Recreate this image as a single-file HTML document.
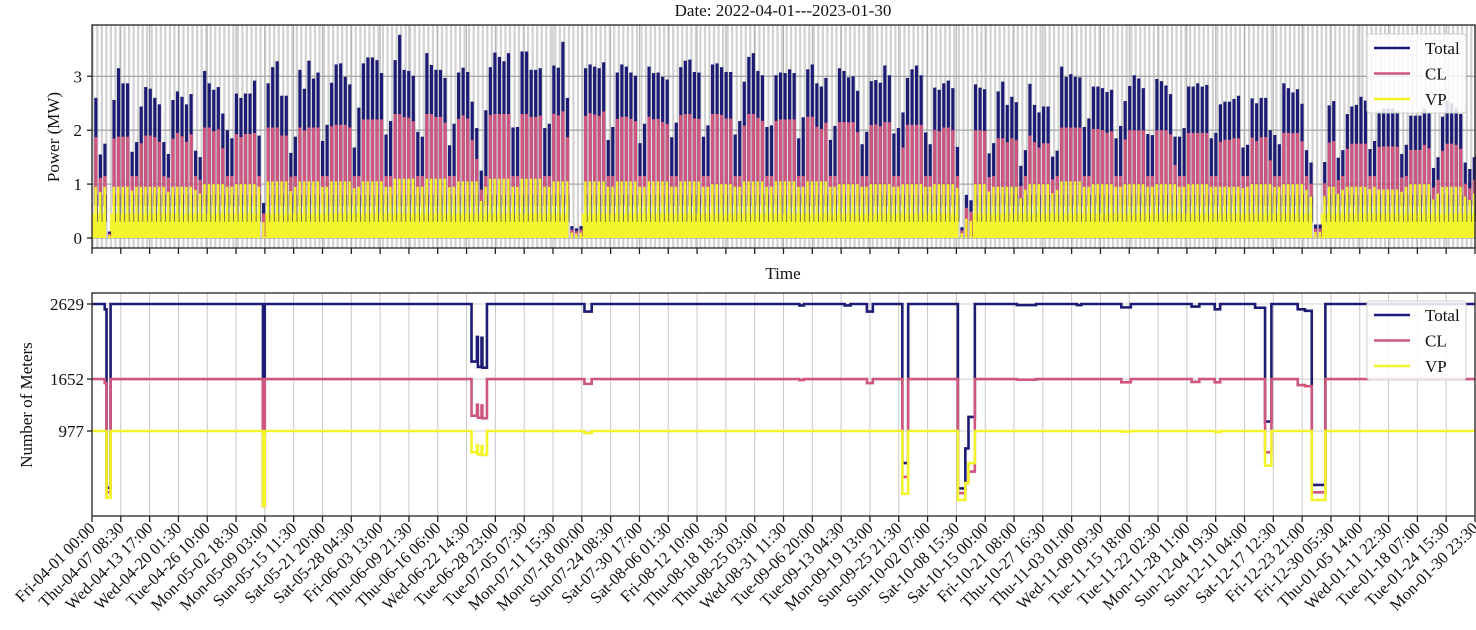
<!DOCTYPE html>
<html><head><meta charset="utf-8"><title>Power and meters</title>
<style>
html,body{margin:0;padding:0;background:#fff;}
svg{display:block;font-family:"Liberation Serif","DejaVu Serif",serif;}
</style></head>
<body>
<svg id="chart" width="1476" height="630" viewBox="0 0 1476 630" xmlns="http://www.w3.org/2000/svg">
<text x="783" y="16" font-size="17" text-anchor="middle" fill="#111">Date: 2022-04-01---2023-01-30</text>
<g id="topPanel"></g>
<g id="botPanel"></g>
</svg>
<script>
// ---------- data ----------
const tickLabels = ["Fri-04-01 00:00","Thu-04-07 08:30","Wed-04-13 17:00","Wed-04-20 01:30","Tue-04-26 10:00","Mon-05-02 18:30","Mon-05-09 03:00","Sun-05-15 11:30","Sat-05-21 20:00","Sat-05-28 04:30","Fri-06-03 13:00","Thu-06-09 21:30","Thu-06-16 06:00","Wed-06-22 14:30","Tue-06-28 23:00","Tue-07-05 07:30","Mon-07-11 15:30","Mon-07-18 00:00","Sun-07-24 08:30","Sat-07-30 17:00","Sat-08-06 01:30","Fri-08-12 10:00","Thu-08-18 18:30","Thu-08-25 03:00","Wed-08-31 11:30","Tue-09-06 20:00","Tue-09-13 04:30","Mon-09-19 13:00","Sun-09-25 21:30","Sun-10-02 07:00","Sat-10-08 15:30","Sat-10-15 00:00","Fri-10-21 08:00","Thu-10-27 16:30","Thu-11-03 01:00","Wed-11-09 09:30","Tue-11-15 18:00","Tue-11-22 02:30","Mon-11-28 11:00","Sun-12-04 19:30","Sun-12-11 04:00","Sat-12-17 12:30","Fri-12-23 21:00","Fri-12-30 05:30","Thu-01-05 14:00","Wed-01-11 22:30","Tue-01-18 07:00","Tue-01-24 15:30","Mon-01-30 23:30"];
const powerTicks = [0,1,2,3];
const meterTicks = [977,1652,2629];
// daily peak of Total power (MW), day 0 = 2022-04-01
const totalPeak = [2.6,1.55,1.75,0.12,2.56,3.15,2.87,2.87,1.6,1.78,
2.44,2.8,2.77,2.6,2.48,1.78,1.56,2.56,2.72,2.62,
2.48,2.67,1.62,1.5,3.1,2.87,2.75,2.8,2.31,2.0,
1.85,2.68,2.6,2.68,2.68,2.92,1.9,0.65,2.87,3.17,
3.28,2.64,2.64,1.58,1.88,3.12,2.77,3.29,2.96,3.07,
1.8,2.1,2.88,3.22,3.24,2.99,2.85,1.68,2.42,3.24,
3.35,3.35,3.3,3.06,1.92,2.17,3.3,3.77,3.12,3.1,
3.01,1.97,1.88,3.43,3.21,3.12,3.12,2.97,1.72,2.12,
3.07,3.16,3.08,2.53,2.04,1.25,2.37,3.17,3.44,3.36,
3.28,3.43,2.05,2.06,3.46,3.46,3.12,3.12,3.15,2.04,
2.12,3.2,3.16,3.64,2.6,0.22,0.18,0.22,3.15,3.22,
3.18,3.15,3.26,1.82,2.06,3.07,3.22,3.18,3.07,3.01,
1.76,2.12,3.18,3.06,3.07,2.99,2.94,1.87,2.14,3.17,
3.29,3.31,3.08,3.07,1.88,2.09,3.22,3.24,3.17,3.08,
3.08,1.92,2.17,2.9,3.36,3.43,3.1,3.02,2.06,2.09,
3.02,3.07,3.06,3.13,3.06,1.85,2.24,3.13,3.22,2.87,
2.81,2.97,1.82,2.08,3.15,3.1,2.98,3.0,2.73,1.74,
1.97,2.91,2.93,2.88,3.2,3.02,1.94,2.04,2.33,2.97,
3.13,3.2,3.02,1.96,1.74,2.79,2.75,2.87,2.92,2.78,
1.69,0.2,0.8,0.7,2.85,2.79,2.76,1.57,1.76,2.72,
2.9,2.47,2.62,2.52,1.34,1.63,2.86,2.47,2.33,2.44,
2.44,1.51,1.62,3.18,2.99,3.04,2.99,2.98,2.06,2.22,
2.81,2.81,2.78,2.71,2.75,1.85,2.08,2.54,2.82,3.02,
2.96,2.78,1.93,1.91,2.95,2.91,2.83,2.67,1.88,1.88,
2.04,2.81,2.81,2.87,2.81,2.84,1.85,1.95,2.48,2.53,
2.53,2.58,2.64,1.68,1.73,2.59,2.5,2.6,2.6,2.0,
1.91,1.74,2.87,2.78,2.7,2.76,2.49,1.63,1.4,0.25,
0.25,1.41,2.46,2.54,1.49,1.63,2.3,2.44,2.47,2.62,
2.55,1.65,1.8,2.35,2.4,2.4,2.4,2.35,1.56,1.73,
2.27,2.27,2.27,2.4,2.31,1.3,1.5,2.25,2.55,2.5,
2.4,2.3,1.4,1.28,1.5];
// weekly (Mon-start) weekday peak levels for CL and VP
const clWeekly = [1.88,1.9,1.95,2.05,1.95,2.05,2.05,2.1,2.2,2.3,2.3,2.3,2.3,2.3,2.35,2.35,2.25,2.25,2.3,2.3,2.3,2.2,2.25,2.15,2.15,2.1,2.05,2.0,1.85,1.9,2.05,2.05,2.0,2.0,1.95,1.85,1.95,1.95,1.8,1.75,1.7,1.85,1.75,1.7];
const vpWeekly = [0.95,0.95,0.95,1.0,1.0,1.05,1.05,1.05,1.05,1.1,1.1,1.05,1.1,1.1,1.05,1.05,1.05,1.05,1.05,1.0,1.05,1.05,1.05,1.0,1.0,1.0,1.0,1.0,0.95,1.0,1.05,1.0,1.0,1.0,1.0,0.95,1.0,1.0,0.95,0.95,0.9,1.0,0.95,0.9];
const weekendPeaks = [1.15, 0.95]; // CL, VP weekend peak
const baseLoad = [0.45, 0.6];      // VP night base, CL min
// meter counts (step series)
const mDays  = [0,2.8,3.2,4.1,37.7,38.1,83.7,84.9,85.1,85.9,86.1,87.1,108.6,110.2,156,157,166,167.3,170.9,172.2,178.7,180.0,190.96,192.6,193.3,194.7,204.0,208.2,217.2,218.2,227.0,229.1,242.5,244.2,247.6,248.8,256.5,258.7,260.1,265.9,267.5,269.0,272.0,305];
const mTotal = [2629,2560,240,2629,0,2629,1880,2200,1810,2190,1800,2629,2530,2629,2610,2629,2610,2629,2530,2629,560,2629,230,750,1160,2629,2615,2629,2615,2629,2585,2629,2595,2629,2560,2629,2580,1100,2629,2560,2540,275,2629,2629];
const mCL    = [1652,1600,180,1652,0,1652,1176,1320,1150,1310,1142,1652,1590,1652,1640,1652,1652,1652,1600,1652,380,1652,170,300,450,1652,1645,1652,1652,1652,1610,1652,1615,1652,1610,1652,1652,700,1652,1575,1560,180,1652,1652];
const mVP    = [977,977,110,977,0,977,700,790,670,780,665,977,950,977,977,977,977,977,977,977,160,977,80,300,560,977,977,977,977,977,970,977,977,977,965,977,977,526,977,977,977,80,977,977];

// ---------- scales ----------
const NS="http://www.w3.org/2000/svg";
const X0=92, X1=1475, DAYS=305;
function X(d){return X0+(X1-X0)*d/DAYS;}
function YP(v){return 238 - v*53.9;}
function YM(v){return 431 - (v-977)*0.07688;}
function el(tag, attrs, parent){const e=document.createElementNS(NS,tag);for(const k in attrs)e.setAttribute(k,attrs[k]);parent.appendChild(e);return e;}
const C_T="#1c1c74", C_CL="#cf567f", C_VP="#f4f42c";
const topG=document.getElementById('topPanel'), botG=document.getElementById('botPanel');

// ---------- top panel ----------
el('rect',{x:X0,y:25,width:X1-X0,height:223,fill:'#ffffff'},topG);
for(let d=0; d<=DAYS; d++){
  const g=el('line',{x1:X(d)+0.8,x2:X(d)+0.8,y1:25,y2:248,stroke:'#d2d2d2','stroke-width':2.2},topG);
  
  
}
tickLabels.forEach((t,i)=>{
  const x=X(i*DAYS/(tickLabels.length-1));
  const g=el('line',{x1:x,x2:x,y1:25,y2:248,stroke:'#b0b0b0','stroke-width':1},topG);
  
  
  const tk=el('line',{x1:x,x2:x,y1:248,y2:254,stroke:'#222','stroke-width':1.3},topG);
  
  
});
powerTicks.forEach(v=>{
  const g=el('line',{x1:X0,x2:X1,y1:YP(v),y2:YP(v),stroke:'#a8a8a8','stroke-width':1.3},topG);
  
  
  const tk=el('line',{x1:X0-5,x2:X0,y1:YP(v),y2:YP(v),stroke:'#222','stroke-width':1.3},topG);
  
  
  const t=el('text',{x:X0-10,y:YP(v)+6,'font-size':17,'text-anchor':'end',fill:'#111'},topG);
  t.textContent=v;
  
  
});
const isGap=d=>totalPeak[d]<1.0;
for(let d=0; d<DAYS; d++){
  if(isGap(d)) continue;
  const b=el('rect',{x:X(d),y:YP(baseLoad[0]),width:X(d+1)-X(d)+0.3,height:YP(0)-YP(baseLoad[0]),fill:C_VP},topG);
  
  
}
for(let d=0; d<totalPeak.length; d++){
  const k=Math.max(0,Math.floor((d-3)/7));
  const wd=d%7, weekend=(wd===1||wd===2);
  const tot=totalPeak[d];
  let cl = weekend?weekendPeaks[0]:clWeekly[Math.min(k,clWeekly.length-1)];
  let vp = weekend?weekendPeaks[1]:vpWeekly[Math.min(k,vpWeekly.length-1)];
  let lo = baseLoad[1];
  if(isGap(d)){cl=tot*0.7; vp=tot*0.45; lo=0.02;}
  else {cl=Math.min(cl,tot*0.72); vp=Math.min(vp,tot*0.55);}
  const xc=X(d+0.85);
  const bt=el('rect',{x:xc-1.6,y:YP(tot),width:3.2,height:YP(lo)-YP(tot),fill:C_T},topG);
  
  
  const bc=el('rect',{x:xc-1.6,y:YP(cl),width:3.2,height:YP(lo)-YP(cl),fill:C_CL},topG);
  
  
  const bv=el('rect',{x:xc-1.4,y:YP(vp),width:2.4,height:YP(0)-YP(vp),fill:C_VP},topG);
  
  
  if(!isGap(d)){
    const ml=el('line',{x1:xc+1.6,x2:xc+1.6,y1:YP(0.3),y2:YP(Math.min(vp,0.8)),stroke:'#555','stroke-width':0.8},topG);
    
    
  }
}
el('rect',{x:X0,y:25,width:X1-X0,height:223,fill:'none',stroke:'#222','stroke-width':1.3},topG);
const yl1=el('text',{x:0,y:0,'font-size':17,'text-anchor':'middle',fill:'#111',transform:'translate(59,137) rotate(-90)'},topG);
yl1.textContent='Power (MW)';


const xl1=el('text',{x:783,y:279,'font-size':17,'text-anchor':'middle',fill:'#111'},topG);
xl1.textContent='Time';



function legend(parent, y0, name){
  const g=el('g',{},parent);
  
  
  el('rect',{x:1367,y:y0,width:99,height:79,rx:3,fill:'#ffffff','fill-opacity':0.85,stroke:'#d0d0d0','stroke-width':1},g);
  [['Total',C_T],['CL',C_CL],['VP',C_VP]].forEach((e,i)=>{
    const yy=y0+14+i*25.5;
    const ln=el('line',{x1:1374,x2:1410,y1:yy,y2:yy,stroke:e[1],'stroke-width':2.6},g);
    
    
    const t=el('text',{x:1425,y:yy+6,'font-size':17,fill:'#111'},g);
    t.textContent=e[0];
    
    
  });
}
legend(topG,34,'power-legend');

// ---------- bottom panel ----------
tickLabels.forEach((t,i)=>{
  const x=X(i*DAYS/(tickLabels.length-1));
  const g=el('line',{x1:x,x2:x,y1:293,y2:516,stroke:'#c8c8c8','stroke-width':1},botG);
  
  
  const tk=el('line',{x1:x,x2:x,y1:516,y2:522,stroke:'#222','stroke-width':1.3},botG);
  
  
  const lb=el('text',{x:0,y:0,'font-size':16.5,'text-anchor':'end',fill:'#111',transform:`translate(${x+4},${529}) rotate(-45)`},botG);
  lb.textContent=t;
  
  
});
meterTicks.forEach(v=>{
  const g=el('line',{x1:X0,x2:X1,y1:YM(v),y2:YM(v),stroke:'#d0d0d0','stroke-width':1},botG);
  
  
  const tk=el('line',{x1:X0-5,x2:X0,y1:YM(v),y2:YM(v),stroke:'#222','stroke-width':1.3},botG);
  
  
  const t=el('text',{x:X0-8,y:YM(v)+6,'font-size':17,'text-anchor':'end',fill:'#111'},botG);
  t.textContent=v;
  
  
});
function stepPath(vals){
  let p='M'+X(mDays[0]).toFixed(2)+','+YM(vals[0]).toFixed(2);
  for(let i=1;i<mDays.length;i++){
    p+=' H'+X(mDays[i]).toFixed(2)+' V'+YM(vals[i]).toFixed(2);
  }
  return p;
}
[[mTotal,C_T,'total-meters-line'],[mCL,C_CL,'cl-meters-line'],[mVP,C_VP,'vp-meters-line']].forEach(s=>{
  const p=el('path',{d:stepPath(s[0]),fill:'none',stroke:s[1],'stroke-width':2.6},botG);
  
  
});
el('rect',{x:X0,y:293,width:X1-X0,height:223,fill:'none',stroke:'#222','stroke-width':1.3},botG);
const yl2=el('text',{x:0,y:0,'font-size':17,'text-anchor':'middle',fill:'#111',transform:'translate(32,405) rotate(-90)'},botG);
yl2.textContent='Number of Meters';


legend(botG,301,'meters-legend');
</script>
</body></html>
